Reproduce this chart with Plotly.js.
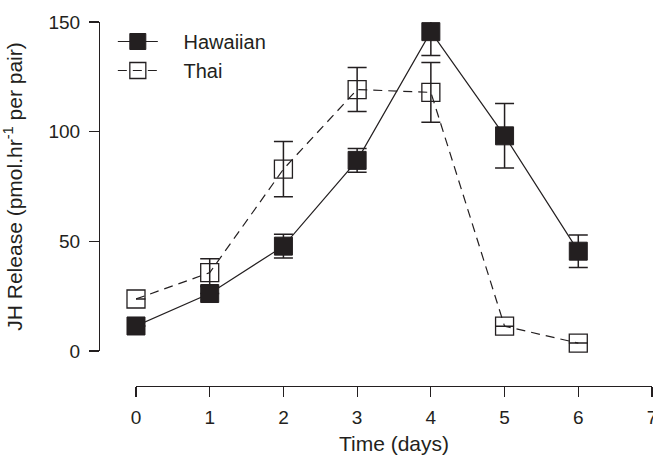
<!DOCTYPE html>
<html>
<head>
<meta charset="utf-8">
<script src="https://cdn.plot.ly/plotly-3.0.1.min.js"></script>
<style>html,body{margin:0;padding:0;background:#fff;}#chart{width:653px;height:457px;}</style>
</head>
<body>
<div id="chart"></div>
<script>
const days = [0, 1, 2, 3, 4, 5, 6];
const hawaiian = [11.4, 26.2, 47.8, 86.9, 145.6, 98.1, 45.5];
const hawaiianErr = [0, 0, 5.4, 5.4, 10.9, 14.7, 7.4];
const thai = [23.7, 35.7, 82.9, 119.2, 117.9, 11.3, 3.6];
const thaiErr = [0, 6.3, 12.6, 10.0, 13.6, 0, 0];
const xTicks = [0, 1, 2, 3, 4, 5, 6, 7];
const yTicks = [0, 50, 100, 150];
const seriesNames = ['Hawaiian', 'Thai'];

const ink = '#231f20';
const fam = 'Liberation Sans, Arial, sans-serif';
const pad = '\u00a0\u00a0\u00a0\u2009';

const traces = [
  {
    x: days, y: thai, name: pad + seriesNames[1], type: 'scatter', mode: 'lines+markers',
    line: {color: ink, width: 1.2, dash: '9px,6px'},
    marker: {symbol: 'square', size: 18, color: 'rgba(0,0,0,0)', line: {color: ink, width: 1.3}},
    error_y: {type: 'data', array: thaiErr, visible: true, color: ink, thickness: 1.5, width: 9.5},
    cliponaxis: false
  },
  {
    x: days, y: hawaiian, name: pad + seriesNames[0], type: 'scatter', mode: 'lines+markers',
    line: {color: ink, width: 1.2},
    marker: {symbol: 'square', size: 18, color: ink, line: {color: ink, width: 1}},
    error_y: {type: 'data', array: hawaiianErr, visible: true, color: ink, thickness: 1.5, width: 9.5},
    cliponaxis: false
  }
];

const layout = {
  width: 653, height: 457,
  margin: {l: 99, r: 1, t: 22, b: 71},
  paper_bgcolor: '#fff', plot_bgcolor: '#fff',
  font: {family: fam, size: 20, color: ink},
  showlegend: true,
  legend: {x: 0.025, y: 1.0, xanchor: 'left', yanchor: 'top', traceorder: 'reversed',
           font: {family: fam, size: 20, color: ink}, bgcolor: 'rgba(0,0,0,0)', itemwidth: 40},
  xaxis: {
    domain: [0.0669, 1], range: [0, 7], anchor: 'free', position: 0,
    tickvals: xTicks, ticktext: xTicks.map(String), ticklabeloverflow: 'allow',
    showgrid: false, zeroline: false, showline: true, linecolor: ink, linewidth: 1.2,
    ticks: 'outside', ticklen: 10, tickwidth: 1.2, tickcolor: ink, ticklabelstandoff: 4,
    tickfont: {family: fam, size: 19, color: ink},
    title: {text: 'Time (days)', font: {family: fam, size: 21, color: ink}, standoff: 9}
  },
  yaxis: {
    domain: [0.0962, 1], range: [0, 150], anchor: 'free', position: 0,
    tickvals: yTicks, ticktext: yTicks.map(String),
    showgrid: false, zeroline: false, showline: true, linecolor: ink, linewidth: 1.2,
    ticks: 'outside', ticklen: 10, tickwidth: 1.2, tickcolor: ink, ticklabelstandoff: 5,
    tickfont: {family: fam, size: 19, color: ink},
    title: {text: 'JH Release (pmol.hr<sup>-1</sup> per pair)', font: {family: fam, size: 21, color: ink}, standoff: 21}
  }
};

Plotly.newPlot('chart', traces, layout, {displayModeBar: false, staticPlot: true});
</script>
</body>
</html>
